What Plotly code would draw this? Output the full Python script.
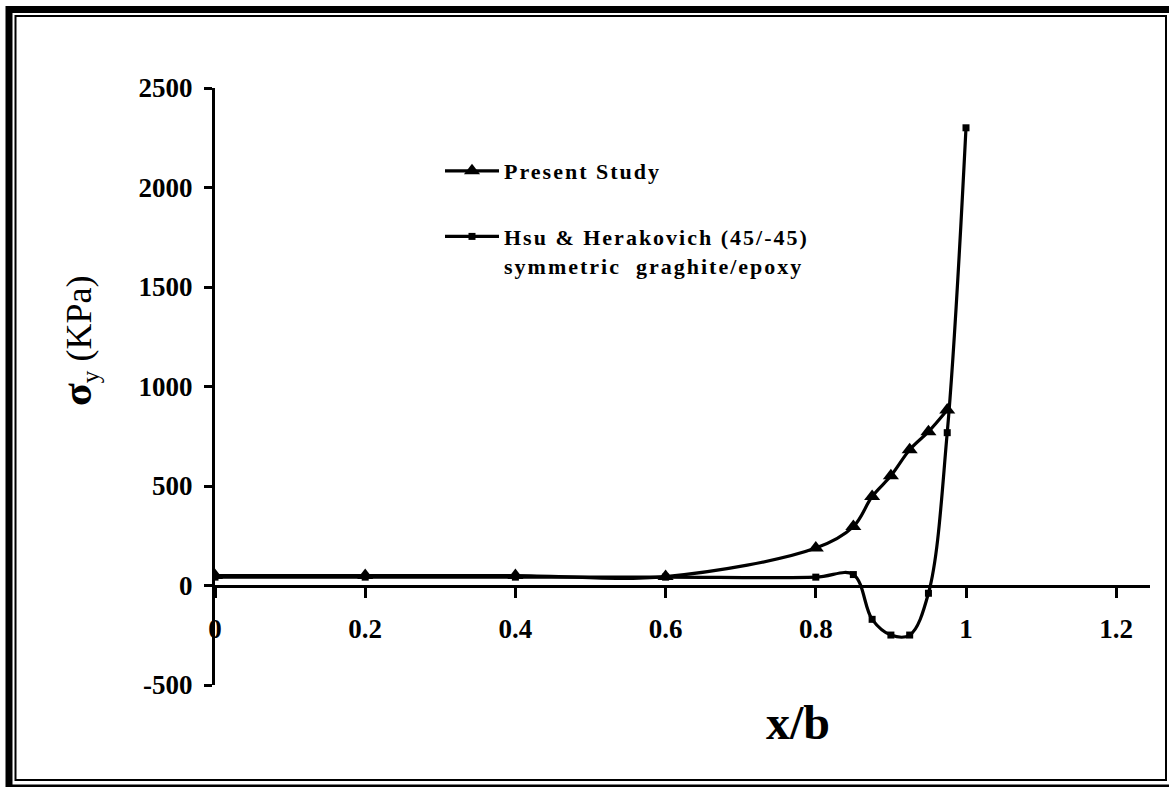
import plotly.graph_objects as go

# ---- data ----
present_x = [0, 0.2, 0.4, 0.6, 0.8, 0.85, 0.875, 0.9, 0.925, 0.95, 0.975]
present_y = [50, 50, 50, 45, 188, 296, 447, 551, 682, 773, 882]

hsu_x = [0, 0.2, 0.4, 0.6, 0.8, 0.85, 0.875, 0.9, 0.925, 0.95, 0.975, 1.0]
hsu_y = [42, 42, 42, 42, 42, 55, -170, -249, -249, -39, 768, 2300]

x_ticks = [0, 0.2, 0.4, 0.6, 0.8, 1, 1.2]
x_ticklabels = ["0", "0.2", "0.4", "0.6", "0.8", "1", "1.2"]
y_ticks = [-500, 0, 500, 1000, 1500, 2000, 2500]
y_ticklabels = ["-500", "0", "500", "1000", "1500", "2000", "2500"]

# ---- layout helpers (pixel -> paper) ----
W, H = 1169, 787
L, R, T, B = 215, 19, 88, 102
PW, PH = W - L - R, H - T - B


def px(x):
    return (x - L) / PW


def py(y):
    return (H - B - y) / PH


SERIF = "Times New Roman, Liberation Serif, serif"

fig = go.Figure()
fig.add_trace(go.Scatter(
    x=present_x, y=present_y, mode="lines+markers",
    name='<span style="letter-spacing:2px">Present Study</span>',
    line=dict(color="black", width=3.2, shape="spline", smoothing=1),
    marker=dict(symbol="triangle-up", size=14, color="black"),
    legendgroup="a",
))
fig.add_trace(go.Scatter(
    x=hsu_x, y=hsu_y, mode="lines+markers",
    name='<span style="letter-spacing:2px">Hsu &amp; Herakovich (45/-45)</span><br>'
         '<span style="letter-spacing:2px">symmetric\u00a0 graghite/epoxy</span>',
    line=dict(color="black", width=3.2, shape="spline", smoothing=1),
    marker=dict(symbol="square", size=7, color="black"),
    legendgroup="b",
))

frame = [
    # outer thick frame
    dict(type="rect", xref="paper", yref="paper",
         x0=px(9), x1=px(1173), y0=py(788), y1=py(9.5),
         line=dict(color="black", width=7), fillcolor="rgba(0,0,0,0)"),
    # inner thin frame
    dict(type="rect", xref="paper", yref="paper",
         x0=px(15.5), x1=px(1166), y0=py(780), y1=py(16),
         line=dict(color="black", width=2), fillcolor="rgba(0,0,0,0)"),
]

fig.update_layout(
    width=W, height=H,
    margin=dict(l=L, r=R, t=T, b=B),
    paper_bgcolor="white", plot_bgcolor="white",
    font=dict(family=SERIF, color="black"),
    showlegend=True,
    legend=dict(
        x=px(440), y=py(150), xanchor="left", yanchor="top",
        bgcolor="rgba(0,0,0,0)", borderwidth=0,
        font=dict(family=SERIF, size=22, color="black", weight="bold"),
        valign="top", tracegroupgap=34, itemwidth=54,
    ),
    shapes=frame,
    xaxis=dict(
        range=[0, 1.245], tickvals=x_ticks, ticktext=x_ticklabels,
        showgrid=False, zeroline=False,
        showline=True, linecolor="black", linewidth=3,
        ticks="outside", ticklen=10, tickwidth=3, tickcolor="black",
        tickfont=dict(family=SERIF, size=27, color="black", weight="bold"),
        anchor="free", position=1 / 6,
        ticklabelstandoff=8,
    ),
    yaxis=dict(
        range=[-500, 2500], tickvals=y_ticks, ticktext=y_ticklabels,
        showgrid=False, zeroline=False,
        showline=True, linecolor="black", linewidth=3,
        ticks="outside", ticklen=8, tickwidth=3, tickcolor="black",
        tickfont=dict(family=SERIF, size=27, color="black", weight="bold"),
        ticklabelstandoff=6,
    ),
    annotations=[
        dict(text="x/b", xref="paper", yref="paper", x=px(798), y=py(722),
             showarrow=False, xanchor="center", yanchor="middle",
             font=dict(family=SERIF, size=48, color="black", weight="bold")),
        dict(text='<b style="font-size:42px">σ</b><sub>y</sub> (KPa)',
             xref="paper", yref="paper", x=px(79), y=py(341),
             textangle=-90, showarrow=False, xanchor="center", yanchor="middle",
             font=dict(family=SERIF, size=36, color="black")),
    ],
)

fig.write_html(
    "out.html",
    config={"displayModeBar": False},
    post_script="document.body.style.margin='0';document.body.style.overflow='hidden';",
)
